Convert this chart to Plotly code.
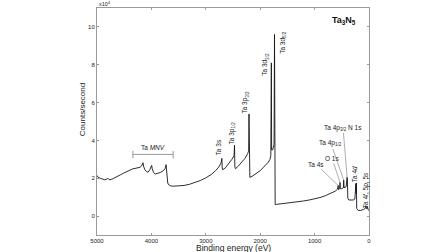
import plotly.graph_objects as go

# Binding energy (eV) and intensity (counts/second, in units of 1e4)
binding_energy = [5000, 4980, 4940, 4900, 4860, 4820, 4800, 4780, 4760, 4720, 4670, 4620, 4570, 4520,
                  4470, 4420, 4380, 4340, 4300, 4260, 4210, 4180, 4155, 4140, 4120, 4090, 4060, 4030,
                  3995, 3985, 3960, 3930, 3880, 3840, 3790, 3750, 3730, 3722, 3712, 3700, 3680, 3650,
                  3600, 3500, 3400, 3300, 3200, 3100, 3000, 2900, 2820, 2760, 2720, 2705, 2698, 2690,
                  2640, 2580, 2520, 2480, 2472, 2466, 2455, 2400, 2340, 2280, 2230, 2212, 2206, 2200,
                  2190, 2150, 2100, 2000, 1950, 1900, 1850, 1820, 1805, 1795, 1790, 1770, 1745, 1737,
                  1732, 1725, 1700, 1600, 1500, 1400, 1300, 1200, 1100, 1000, 900, 800, 700, 620,
                  580, 567, 560, 540, 533, 527, 500, 470, 465, 458, 420, 405, 397, 390, 370, 330,
                  290, 260, 245, 241, 236, 231, 226, 200, 150, 120, 100, 70, 60, 45, 40, 30, 25, 15, 5, 0]
counts_1e4 = [2.15, 2.05, 2.0, 1.95, 1.92, 1.95, 2.0, 1.93, 1.92, 1.96, 2.02, 2.1, 2.18, 2.26,
              2.33, 2.38, 2.45, 2.5, 2.52, 2.55, 2.58, 2.65, 2.82, 2.6, 2.45, 2.35, 2.32, 2.45,
              2.68, 2.5, 2.3, 2.22, 2.25, 2.3, 2.38, 2.5, 2.72, 2.3, 1.95, 1.75, 1.65, 1.6,
              1.58, 1.6, 1.62, 1.68, 1.76, 1.88, 2.02, 2.2, 2.4, 2.6, 2.8, 3.05, 2.55, 2.45,
              2.55, 2.75, 3.0, 3.2, 3.75, 2.6, 2.5, 2.65, 2.85, 3.05, 3.3, 3.45, 5.4, 2.4,
              2.05, 2.1, 2.2, 2.4, 2.55, 2.7, 2.85, 3.0, 3.2, 8.1, 3.5, 3.5, 3.8, 9.6,
              3.0, 0.6, 0.62, 0.65, 0.68, 0.72, 0.76, 0.8, 0.85, 0.9, 0.98, 1.08, 1.2, 1.32,
              1.42, 1.62, 1.4, 1.45, 1.78, 1.45, 1.45, 1.5, 1.9, 1.5, 1.55, 2.05, 2.0, 0.95, 0.85, 0.85,
              0.85, 0.9, 1.3, 1.72, 1.2, 1.75, 0.4, 0.3, 0.3, 0.32, 0.35, 0.4, 0.55, 0.45, 0.38, 0.5, 0.4, 0.35, 0.3, 0.3]

x_ticks = [5000, 4000, 3000, 2000, 1000, 0]
y_ticks = [0, 2, 4, 6, 8, 10]

# rotated peak labels: text, label BE, label height
rot_labels = ["Ta 3s", "Ta 3p<sub>1/2</sub>", "Ta 3p<sub>3/2</sub>", "Ta 3d<sub>3/2</sub>",
              "Ta 3d<sub>5/2</sub>", "Ta 4<i>d</i>", "Ta 4<i>f</i>, 5<i>p</i>, 5<i>s</i>"]
rot_x = [2776, 2518, 2279, 1912, 1581, 276, 55]
rot_y = [3.63, 4.37, 6.0, 8.05, 9.21, 2.21, 1.37]

# leader-line labels: text, peak BE, peak value, text position
lead_labels = ["Ta 4s", "O 1s", "Ta 4p<sub>1/2</sub>", "Ta 4p<sub>3/2</sub> N 1s"]
lead_peak_x = [567, 533, 465, 402]
lead_peak_y = [1.62, 1.78, 1.9, 2.05]
lead_text_x = [974, 680, 699, 478]
lead_text_y = [2.74, 3.05, 3.84, 4.68]

FONT = "Liberation Sans, Arial, sans-serif"
GRAY = "#9a9a9a"
TXT = "#222222"

fig = go.Figure()
fig.add_trace(go.Scatter(x=binding_energy, y=counts_1e4, mode="lines",
                         line=dict(color="#151515", width=0.9), hoverinfo="skip"))

annotations = []
for t, x, y in zip(rot_labels, rot_x, rot_y):
    annotations.append(dict(x=x, y=y, xref="x", yref="y", text=t, showarrow=False,
                            xanchor="center", yanchor="middle",
                            textangle=-90, font=dict(size=6.5, color=TXT, family=FONT)))
for t, px, py, tx, ty in zip(lead_labels, lead_peak_x, lead_peak_y, lead_text_x, lead_text_y):
    annotations.append(dict(x=px, y=py, xref="x", yref="y", ax=tx, ay=ty, axref="x", ayref="y",
                            text=t, showarrow=True, arrowhead=0, arrowwidth=0.6, arrowcolor="#777",
                            standoff=0, font=dict(size=6.5, color=TXT, family=FONT)))
annotations += [
    dict(x=3970, y=3.6, xref="x", yref="y", text="Ta <i>MNV</i>", showarrow=False,
         xanchor="center", font=dict(size=6.5, color=TXT, family=FONT)),
    dict(x=0.908, y=0.943, xref="paper", yref="paper", text="<b>Ta<sub>3</sub>N<sub>5</sub></b>",
         xanchor="center", yanchor="middle",
         showarrow=False, font=dict(size=9, color="#111", family=FONT)),
    dict(x=0, y=1.0, xref="paper", yref="paper", text="x10<sup>4</sup>", xanchor="left",
         yanchor="middle", yshift=4, showarrow=False, font=dict(size=5.5, color=TXT, family=FONT)),
    dict(x=-0.055, y=0.55, xref="paper", yref="paper", text="Counts/second", textangle=-90,
         xanchor="center", yanchor="middle",
         showarrow=False, font=dict(size=8, color=TXT, family=FONT)),
    dict(x=0.5, y=-0.0, xref="paper", yref="paper", yshift=-12.5, text="Binding energy (eV)",
         xanchor="center", yanchor="middle",
         showarrow=False, font=dict(size=8.5, color=TXT, family=FONT)),
]

shapes = [
    dict(type="line", xref="x", yref="y", x0=4340, x1=3600, y0=3.26, y1=3.26, line=dict(color=GRAY, width=1)),
    dict(type="line", xref="x", yref="y", x0=4340, x1=4340, y0=3.05, y1=3.45, line=dict(color=GRAY, width=1)),
    dict(type="line", xref="x", yref="y", x0=3600, x1=3600, y0=3.05, y1=3.45, line=dict(color=GRAY, width=1)),
]

fig.update_layout(
    width=448, height=252, margin=dict(l=97, r=79, t=8, b=17),
    paper_bgcolor="white", plot_bgcolor="white", showlegend=False,
    font=dict(family=FONT, size=6, color=TXT),
    annotations=annotations, shapes=shapes,
    xaxis=dict(range=[5000, 0], tickvals=x_ticks, ticks="inside", ticklen=2, tickcolor=GRAY,
               showline=True, linecolor=GRAY, linewidth=1, mirror="ticks", showgrid=False,
               zeroline=False, tickfont=dict(size=6), automargin=False),
    yaxis=dict(range=[-1, 11], tickvals=y_ticks, ticks="inside", ticklen=2, tickcolor=GRAY,
               showline=True, linecolor=GRAY, linewidth=1, mirror="ticks", showgrid=False,
               zeroline=False, tickfont=dict(size=6), automargin=False),
)

fig.write_html("out.html", config={"displayModeBar": False, "staticPlot": True},
               post_script="document.body.style.margin='0';document.body.style.overflow='hidden';")
